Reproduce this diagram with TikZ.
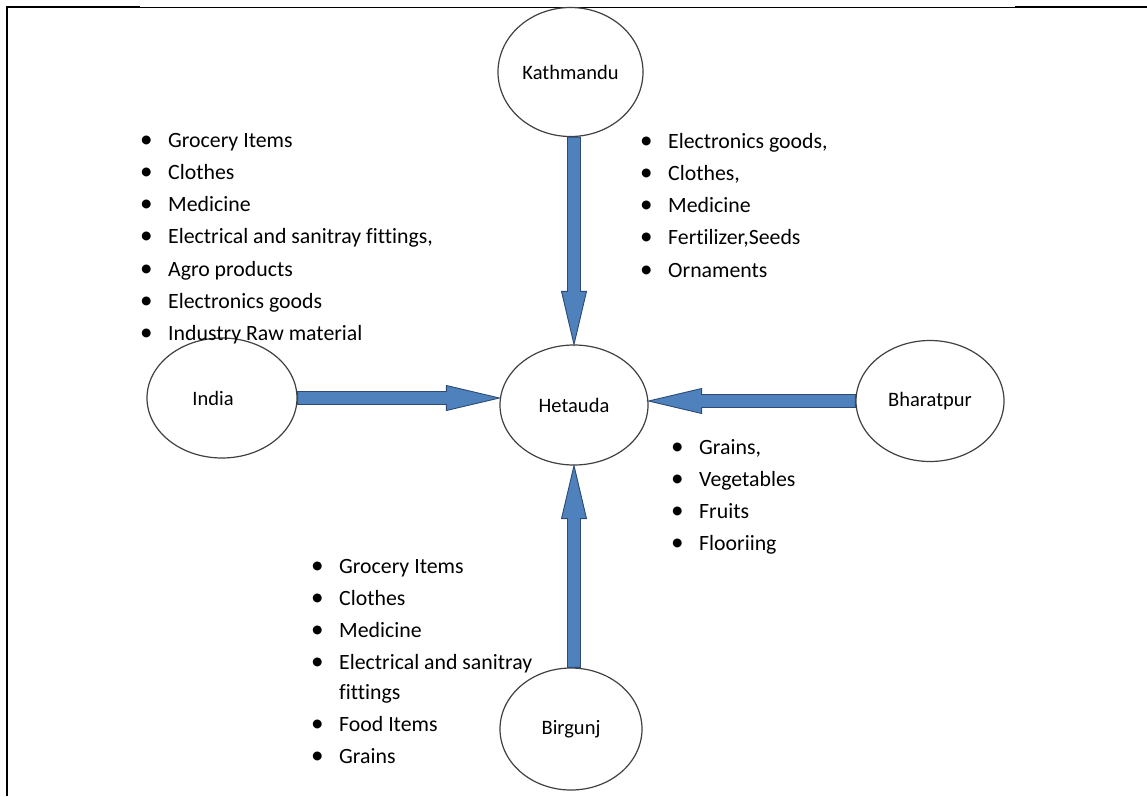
\documentclass[tikz,border=0pt]{standalone}
\usepackage{fontspec}
\setmainfont{Carlito}[Ligatures=NoCommon]
\usetikzlibrary{calc}
\usetikzlibrary{shapes.geometric}
\definecolor{arrowfill}{HTML}{4F81BD}
\definecolor{arrowline}{HTML}{2C4A73}
\newcommand{\goodsitem}[1]{\makebox[28pt][l]{\scalebox{1.15}{\textbullet}}#1} % bullet + text
\newcommand{\goodsmore}[1]{\makebox[28pt][l]{}#1}
\newcommand{\flowarrow}[2]{ % Takes start point and tip point, draws a block arrow between them
    \coordinate (fa-s) at (#1);
    \coordinate (fa-e) at (#2);
    \coordinate (fa-c) at ($(fa-e)!53pt!(fa-s)$);
    \draw[flow] ($(fa-s)!6.5pt!90:(fa-c)$) -- ($(fa-c)!6.5pt!-90:(fa-s)$) -- ($(fa-c)!12.5pt!-90:(fa-s)$)
        -- (fa-e) -- ($(fa-c)!12.5pt!90:(fa-s)$) -- ($(fa-c)!6.5pt!90:(fa-s)$) -- ($(fa-s)!6.5pt!-90:(fa-c)$) -- cycle;
}

\begin{document}
\begin{tikzpicture}[x=1pt, y=-1pt,
    place/.style={ellipse, draw=black!75, line width=1.2pt, inner sep=0pt, font=\fontsize{20.5}{24}\selectfont},
    goods/.style={anchor=north west, align=left, inner sep=0pt, font=\fontsize{21.8}{32.2}\selectfont},
    flow/.style={fill=arrowfill, draw=arrowline, line width=0.9pt, line join=miter}]
    \useasboundingbox (0,0) rectangle (1147,796);

    % Frame
    \draw[line width=2.3pt] (6,7.2) -- (140,7.2);
    \draw[line width=1pt] (140,7) -- (1015,7);
    \draw[line width=2.3pt] (1015,7.2) -- (1147,7.2);
    \draw[line width=2.3pt] (7,6) -- (7,796);

    % Places
    \node[place, minimum width=145pt, minimum height=129pt] (kath) at (570.5,72) {Kathmandu};
    \node[place, minimum width=148pt, minimum height=120pt] (het) at (574,405) {Hetauda};
    \node[place, minimum width=150pt, minimum height=120pt] (india) at (222,398) {India\kern18pt};
    \node[place, minimum width=148pt, minimum height=121pt] (bhar) at (930,401) {Bharatpur};
    \node[place, minimum width=142pt, minimum height=122pt] (birg) at (571,729) {Birgunj};

    % Flows into Hetauda
    \flowarrow{het.north |- kath.south}{het.north}
    \flowarrow{india.east}{het.west |- india.east}
    \flowarrow{bhar.west}{het.east |- bhar.west}
    \flowarrow{het.south |- birg.north}{het.south}

    % Goods lists
    \node[goods] (indiagoods) at (140,133) {\goodsitem{Grocery Items}\\ \goodsitem{Clothes}\\ \goodsitem{Medicine}\\
        \goodsitem{Electrical and sanitray fittings,}\\ \goodsitem{Agro products}\\ \goodsitem{Electronics goods}\\
        \goodsitem{Industry Raw material}};
    \node[goods] (kathgoods) at (640,133) {\goodsitem{Electronics goods,}\\ \goodsitem{Clothes,}\\ \goodsitem{Medicine}\\
        \goodsitem{Fertilizer,Seeds}\\ \goodsitem{Ornaments}};
    \node[goods] (bhargoods) at (671,439) {\goodsitem{Grains,}\\ \goodsitem{Vegetables}\\ \goodsitem{Fruits}\\
        \goodsitem{Flooriing}};
    \node[goods] (birggoods) at (311,559) {\goodsitem{Grocery Items}\\ \goodsitem{Clothes}\\ \goodsitem{Medicine}\\
        \goodsitem{Electrical and sanitray}\\[-3pt] \goodsmore{fittings}\\ \goodsitem{Food Items}\\ \goodsitem{Grains}};
\end{tikzpicture}
\end{document}
